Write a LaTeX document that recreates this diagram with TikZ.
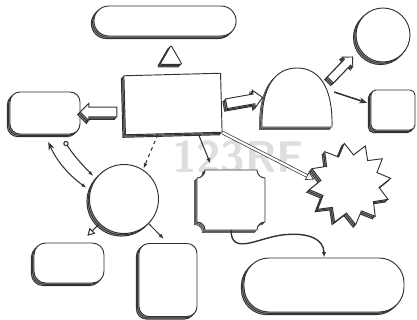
\documentclass[tikz,border=0pt]{standalone}
\usetikzlibrary{arrows.meta, calc, shadows, shapes.arrows, shapes.geometric, shapes.misc}
\definecolor{inkcol}{RGB}{50, 50, 50}
\definecolor{sidecol}{RGB}{150, 150, 150}
\definecolor{markcol}{RGB}{222, 222, 222}
\tikzset{
  solid3d/.style  = {draw=inkcol, line width=0.8pt, fill=white,
                     double copy shadow={shadow xshift=-1.1pt,
                       shadow yshift=-1.1pt, fill=sidecol, draw=inkcol}},
  pill/.style     = {solid3d, rounded rectangle},
  rbox/.style     = {solid3d, rounded corners=3mm},
  disc/.style     = {solid3d, circle, inner sep=0pt},
  fatarrow/.style = {solid3d, single arrow, single arrow head extend=3.2pt,
                     inner sep=3.8pt, minimum height=11mm},
  % invisible holders for the outlines that are drawn by hand
  frame/.style    = {inner sep=0pt, outer sep=0pt},
  link/.style     = {draw=inkcol, line width=0.9pt},
  pencil/.style   = {draw=inkcol, line width=0.6pt, double=white,
                     double distance=1.8pt},
  wmark/.style    = {text=markcol, font=\sffamily\bfseries\fontsize{38}{38}\selectfont},
}
\begin{document}
\begin{tikzpicture}[x=0.3mm, y=0.3mm]
  \useasboundingbox (0,0) rectangle (417,320);

  \node[wmark] (wm) at (238,163) {123RF};

  %% ---------------- top and centre ----------------
  \node[pill, minimum width=45mm, minimum height=9mm] (banner) at (165,299) {};
  \node[solid3d, regular polygon, regular polygon sides=3, minimum size=7.6mm,
        inner sep=0pt, rounded corners=1pt] (cap) at (171,262) {};
  \node[solid3d, minimum width=29mm, minimum height=17.7mm, rotate=1.5]
       (hub) at (173,216) {};
  \node[rbox, minimum width=21mm, minimum height=12.6mm] (lbox) at (45,207) {};
  \node[fatarrow, rotate=180] (larr) at (101,208) {};
  \node[fatarrow, rotate=10] (rarr) at (242,219) {};

  %% ---------------- right side ----------------
  \node[frame, minimum width=21mm, minimum height=17.7mm] (dome) at (297,222.5) {};
  \draw[solid3d] (dome.south west) -- (dome.south east)
       .. controls (333,236) and (317,252) .. (dome.north)
       .. controls (277,252) and (261,236) .. cycle;
  \node[fatarrow, rotate=46, minimum height=9.6mm, inner sep=3.2pt,
        single arrow head extend=2.6pt] (uarr) at (340,250) {};
  \node[disc, minimum size=16.2mm] (ball) at (383,285) {};
  \node[solid3d, rounded corners=1.5mm, minimum width=13.2mm,
        minimum height=12mm] (sq) at (393,210) {};
  \node[solid3d, star, star points=12, star point ratio=1.4, inner sep=0pt,
        minimum size=24.6mm, rotate=8] (burst) at (350,136) {};

  %% ---------------- plaque with cut corners ----------------
  \node[frame, minimum width=20.4mm, minimum height=18mm] (plaque) at (231,120) {};
  \draw[solid3d] ($(plaque.south west)+(0,8)$) -- ($(plaque.north west)+(0,-8)$)
       arc[start angle=270, end angle=360, radius=8]
       -- ($(plaque.north east)+(-8,0)$)
       arc[start angle=180, end angle=270, radius=8]
       -- ($(plaque.south east)+(0,8)$)
       arc[start angle=90, end angle=180, radius=8]
       -- ($(plaque.south west)+(8,0)$)
       arc[start angle=0, end angle=90, radius=8] -- cycle;

  %% ---------------- bottom row ----------------
  \node[disc, minimum size=20.7mm] (disc) at (124,121) {};
  \node[rbox, rounded corners=3.5mm, minimum width=21mm, minimum height=12mm]
       (sbox) at (69,57) {};
  \node[rbox, minimum width=17.4mm, minimum height=21.9mm] (tbox) at (168,40) {};
  \node[rbox, rounded corners=7.5mm, minimum width=48mm, minimum height=16.2mm]
       (slab) at (324,35) {};

  %% ---------------- connectors ----------------
  \draw[link, {Stealth[length=2.4mm]}-{Latex[length=1.5mm]},
        shorten <=7pt, shorten >=4pt] (lbox.-90) to[bend right=15] (disc.166);
  \draw[link, {Circle[open, length=1.6mm]}-{Latex[length=1.5mm]},
        shorten <=7pt, shorten >=3pt] (lbox.-55) to[bend right=6] (disc.144);
  \draw[link, dashed, -{Latex[length=1.6mm]}, shorten >=1pt]
       (hub.-118) -- (disc.57);
  \draw[link, -{Latex[length=1.6mm]}, shorten <=2pt, shorten >=6pt]
       (hub.-51) -- (plaque.121);
  \draw[pencil, -{Triangle[open, length=2.5mm, width=2.6mm]}, shorten >=4pt]
       (hub.south east) -- (burst.168);
  \draw[link, line width=1.3pt, -{Stealth[length=2.4mm]},
        shorten <=2pt, shorten >=3pt] (dome.10) -- (sq.165);
  \draw[link, -{Triangle[open, length=2.2mm, width=2.4mm]}, shorten >=8pt]
       (disc.225) -- (sbox.60);
  \draw[link, -{Latex[length=1.6mm]}, shorten >=5pt] (disc.-45) -- (tbox.north);
  \draw[link, line width=1.2pt, -{Latex[length=1.6mm]}]
       (plaque.south) .. controls (231,64) and (258,82) .. (282,85)
       .. controls (306,88) and (324,82) .. (slab.north);

\end{tikzpicture}
\end{document}
